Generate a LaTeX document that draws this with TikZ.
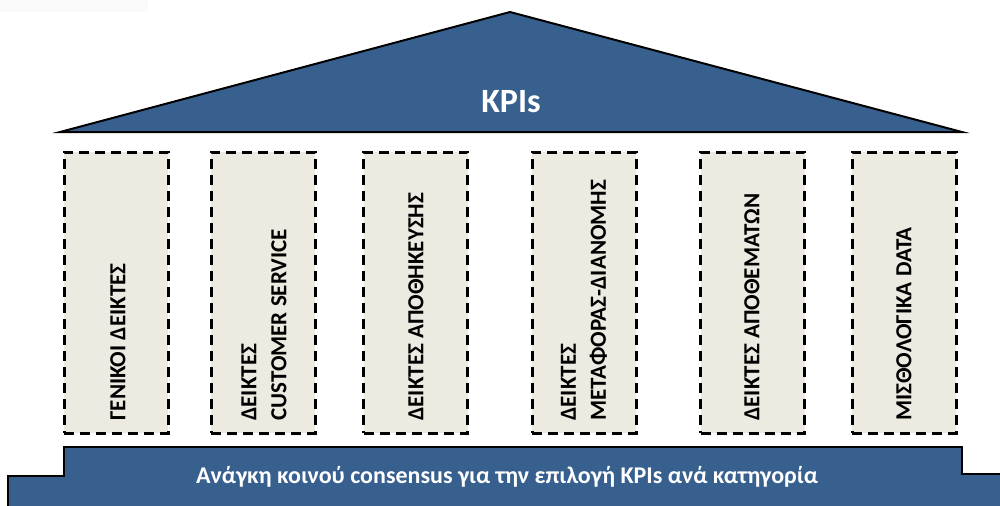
\documentclass[tikz,border=0pt]{standalone}
\usepackage{fontspec}
\setmainfont{Carlito}
\definecolor{kpiblue}{HTML}{37608F}
\definecolor{pillarfill}{HTML}{ECEAE1}

\begin{document}
\begin{tikzpicture}[x=0.5pt,y=-0.5pt,
	roof/.style={draw=black,line width=1pt,fill=kpiblue},
	pillar/.style={draw=black,line width=1.5pt,dash pattern=on 5pt off 3pt,fill=pillarfill,
		minimum width=52pt,minimum height=140.5pt,inner sep=0pt},
	pillartext/.style={rotate=90,anchor=west,align=left,inner sep=0pt,font=\bfseries\fontsize{11.5}{15}\selectfont},
	whitetext/.style={text=white,inner sep=0pt}]
		\clip (0,0) rectangle (1000,505);
		\fill[black!2] (0,0) rectangle (148,12);
		%draw roof
		\draw[roof] (60,132) -- (510,12) -- (962,132) -- cycle;
		\node[whitetext,font=\bfseries\fontsize{17}{20}\selectfont] (kpis) at (511,102) {KPIs};
		%draw pillars
		\node[pillar] (p1) at (116,292.5) {};
		\node[pillar] (p2) at (263,292.5) {};
		\node[pillar] (p3) at (415.5,292.5) {};
		\node[pillar] (p4) at (584,292.5) {};
		\node[pillar] (p5) at (752.5,292.5) {};
		\node[pillar] (p6) at (904,292.5) {};
		%draw pillar labels
		\node[pillartext] (t1) at (118,421) {ΓΕΝΙΚΟΙ ΔΕΙΚΤΕΣ};
		\node[pillartext] (t2) at (264,421) {ΔΕΙΚΤΕΣ\\CUSTOMER SERVICE};
		\node[pillartext] (t3) at (416,421) {ΔΕΙΚΤΕΣ ΑΠΟΘΗΚΕΥΣΗΣ};
		\node[pillartext] (t4) at (584,421) {ΔΕΙΚΤΕΣ\\ΜΕΤΑΦΟΡΑΣ-ΔΙΑΝΟΜΗΣ};
		\node[pillartext] (t5) at (752,421) {ΔΕΙΚΤΕΣ ΑΠΟΘΕΜΑΤΩΝ};
		\node[pillartext] (t6) at (904,421) {ΜΙΣΘΟΛΟΓΙΚΑ DATA};
		%draw base
		\draw[roof] (8,512) -- (8,476) -- (64,476) -- (64,447) -- (962,447) -- (962,474) -- (1006,474) -- (1006,512) -- cycle;
		\node[whitetext,font=\bfseries\fontsize{12}{14}\selectfont] (base) at (507,477) {Ανάγκη κοινού consensus για την επιλογή KPIs ανά κατηγορία};
\end{tikzpicture}
\end{document}
